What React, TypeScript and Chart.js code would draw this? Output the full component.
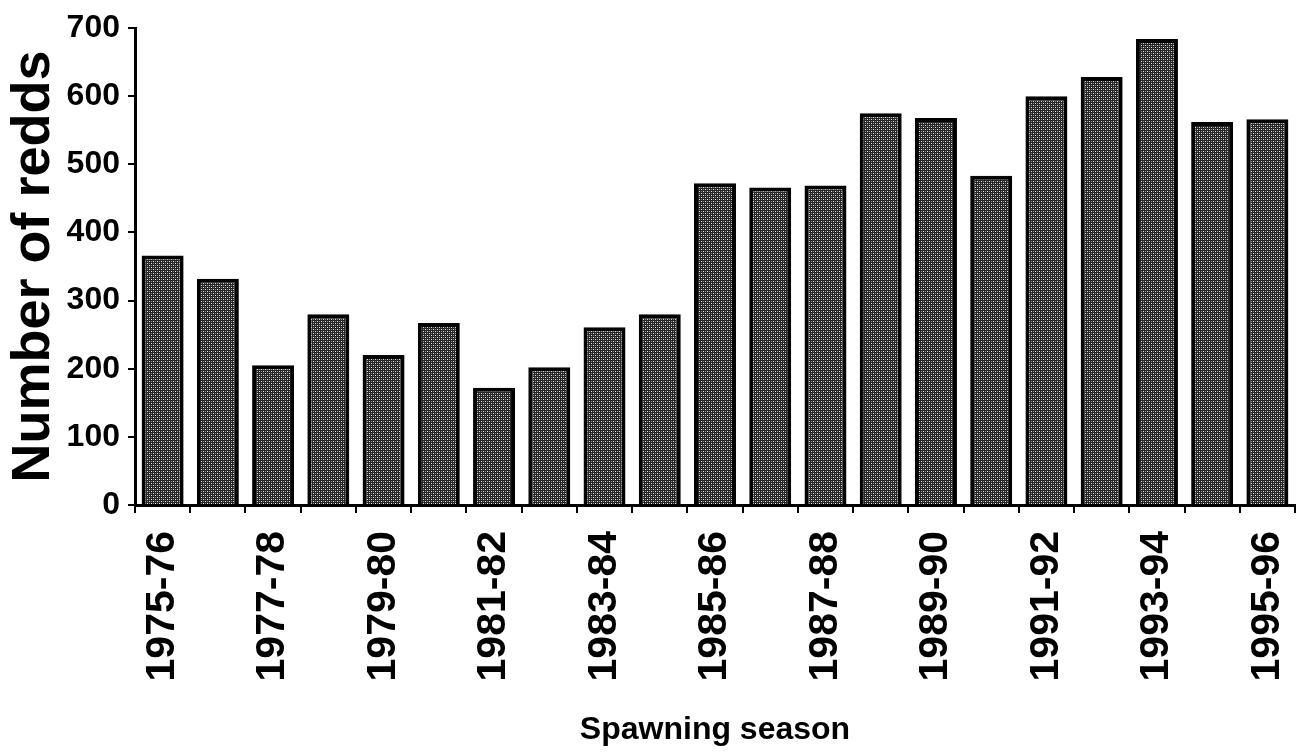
import React, { useEffect, useRef } from "react";
import { Chart, registerables } from "chart.js";

Chart.register(...registerables);

const seasons = [
  "1975-76", "1976-77", "1977-78", "1978-79", "1979-80", "1980-81", "1981-82",
  "1982-83", "1983-84", "1984-85", "1985-86", "1986-87", "1987-88", "1988-89",
  "1989-90", "1990-91", "1991-92", "1992-93", "1993-94", "1994-95", "1995-96",
];
const redds = [366, 332, 205, 280, 220, 267, 172, 202, 261, 280, 472, 466, 469, 575, 568, 483, 600, 628, 684, 562, 566];
const yTicks = [0, 100, 200, 300, 400, 500, 600, 700];

function makePattern(): CanvasPattern | string {
  const c = document.createElement("canvas");
  c.width = 4;
  c.height = 4;
  const g = c.getContext("2d");
  if (!g) return "#555";
  g.fillStyle = "#262626";
  g.fillRect(0, 0, 4, 4);
  g.fillStyle = "#e0e0e0";
  g.fillRect(1, 1, 1, 1);
  g.fillRect(3, 3, 1, 1);
  g.fillStyle = "#8a8a8a";
  g.fillRect(3, 1, 1, 1);
  g.fillRect(1, 3, 1, 1);
  const p = g.createPattern(c, "repeat");
  return p || "#555";
}

export default function App() {
  const ref = useRef<HTMLCanvasElement | null>(null);
  useEffect(() => {
    if (!ref.current) return;
    Chart.defaults.font.family = "'Liberation Sans', Arial, sans-serif";
    const chart = new Chart(ref.current, {
      type: "bar",
      data: {
        labels: seasons,
        datasets: [
          {
            data: redds,
            backgroundColor: makePattern() as any,
            borderColor: "#000",
            borderWidth: 4,
            barPercentage: 0.76,
            categoryPercentage: 1,
          },
        ],
      },
      options: {
        animation: false,
        responsive: false,
        maintainAspectRatio: false,
        layout: { padding: { top: 28, right: 3, left: 0, bottom: 0 } },
        plugins: { legend: { display: false }, tooltip: { enabled: false } },
        scales: {
          x: {
            afterFit: (s: any) => {
              s.height = 251;
              s.paddingLeft = 0;
              s.paddingRight = 0;
            },
            border: { color: "#000", width: 3 },
            grid: { offset: true, drawOnChartArea: false, tickLength: 8, color: "#000", lineWidth: 2 },
            ticks: {
              autoSkip: false,
              maxRotation: 90,
              minRotation: 90,
              padding: 18,
              color: "#000",
              font: { size: 41, weight: "bold" },
              callback: (_v: any, i: number) => (i % 2 === 0 ? seasons[i] : ""),
            },
            title: {
              display: true,
              text: "Spawning season",
              color: "#000",
              font: { size: 32, weight: "bold" },
              padding: { top: 0, bottom: 7 },
            },
          },
          y: {
            min: 0,
            max: 700,
            afterFit: (s: any) => { s.width = 135; },
            afterBuildTicks: (s: any) => { s.ticks = yTicks.map((v) => ({ value: v })); },
            border: { color: "#000", width: 3 },
            grid: { drawOnChartArea: false, tickLength: 7, color: "#000", lineWidth: 2 },
            ticks: {
              padding: 8,
              color: "#000",
              font: { size: 32, weight: "bold" },
            },
            title: {
              display: true,
              text: "Number of redds",
              color: "#000",
              font: { size: 54, weight: "bold" },
              padding: { top: 2, bottom: 0 },
            },
          },
        },
      },
    });
    return () => chart.destroy();
  }, []);
  return (
    <div style={{ position: "fixed", left: 0, top: 0, width: 1298, height: 756, background: "#fff" }}>
      <canvas ref={ref} width={1298} height={756} style={{ width: 1298, height: 756 }} />
    </div>
  );
}
